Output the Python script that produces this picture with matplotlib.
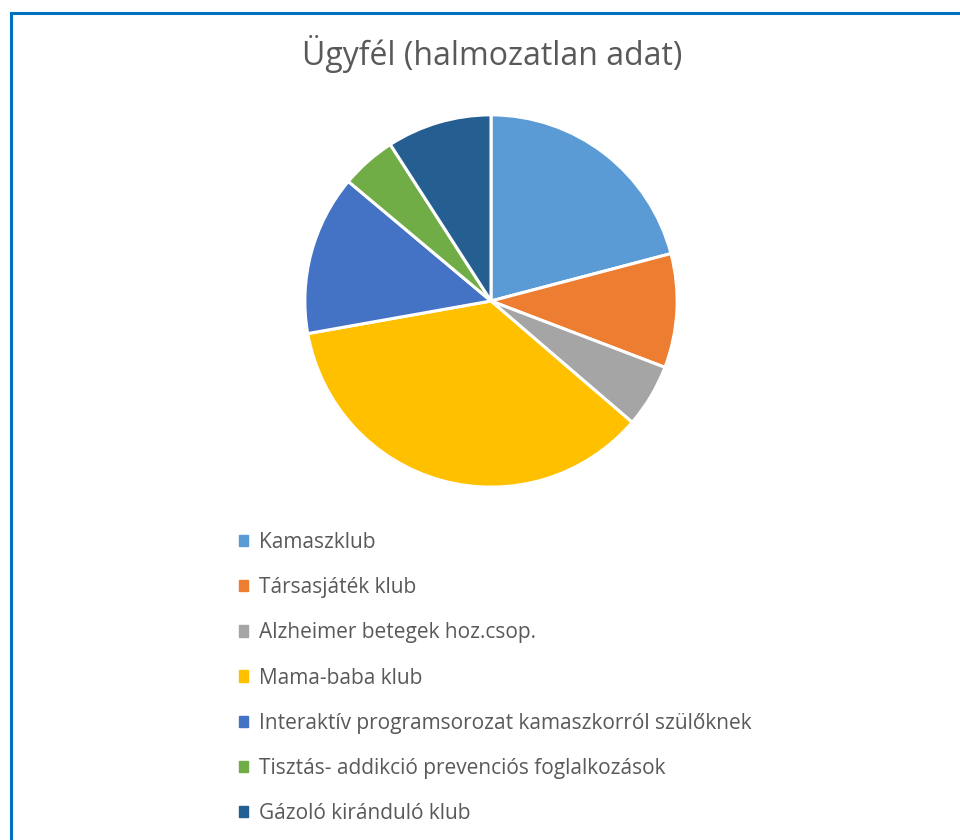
import matplotlib
matplotlib.use("Agg")
import matplotlib.pyplot as plt
from matplotlib.lines import Line2D

# ---------------------------------------------------------------------------
# Data (approx. share of the pie)
# ---------------------------------------------------------------------------
labels = [
    "Kamaszklub",
    "Társasjáték klub",
    "Alzheimer betegek hoz.csop.",
    "Mama-baba klub",
    "Interaktív programsorozat kamaszkorról szülőknek",
    "Tisztás- addikció prevenciós foglalkozások",
    "Gázoló kiránduló klub",
]
values = [20.9, 9.9, 5.5, 35.9, 13.9, 4.8, 9.1]
colors = ["#5B9BD5", "#ED7D31", "#A5A5A5", "#FFC000", "#4472C4", "#70AD47", "#255E91"]
title = "Ügyfél (halmozatlan adat)"

W, H = 960, 840
TEXT = "#595959"
plt.rcParams["font.family"] = ["Open Sans", "DejaVu Sans"]

fig = plt.figure(figsize=(W / 100, H / 100), dpi=100)

# blue frame (only left and top edges are visible in the crop)
frame = "#0070C0"
fig.add_artist(Line2D([11 / W, 11 / W], [0, 1 - 13 / H], color=frame, lw=2.2))
fig.add_artist(Line2D([11 / W, 1], [1 - 13 / H, 1 - 13 / H], color=frame, lw=2.2))

fig.text(492 / W, 1 - 65 / H, title, ha="center", va="baseline", fontsize=23, color=TEXT)

# pie
cx, cy, r = 491, 301, 188
ax = fig.add_axes([(cx - r) / W, (H - cy - r) / H, 2 * r / W, 2 * r / H])
wedges, _ = ax.pie(values, colors=colors, startangle=90, counterclock=False,
                   radius=1, wedgeprops=dict(edgecolor="white", linewidth=2.2))
ax.set_xlim(-1.01, 1.01)
ax.set_ylim(-1.01, 1.01)
ax.set_aspect("equal")
ax.axis("off")

# legend
handles = [plt.Rectangle((0, 0), 1, 1, color=c) for c in colors]
leg = fig.legend(handles, labels, loc="upper left", bbox_to_anchor=(239 / W, 1 - 532 / H),
                 frameon=False, fontsize=15, labelspacing=1.16, handlelength=0.45,
                 handleheight=0.45, handletextpad=0.5, borderaxespad=0, borderpad=0)
for t in leg.get_texts():
    t.set_color(TEXT)

fig.savefig("out.png", dpi=100, facecolor="white")
